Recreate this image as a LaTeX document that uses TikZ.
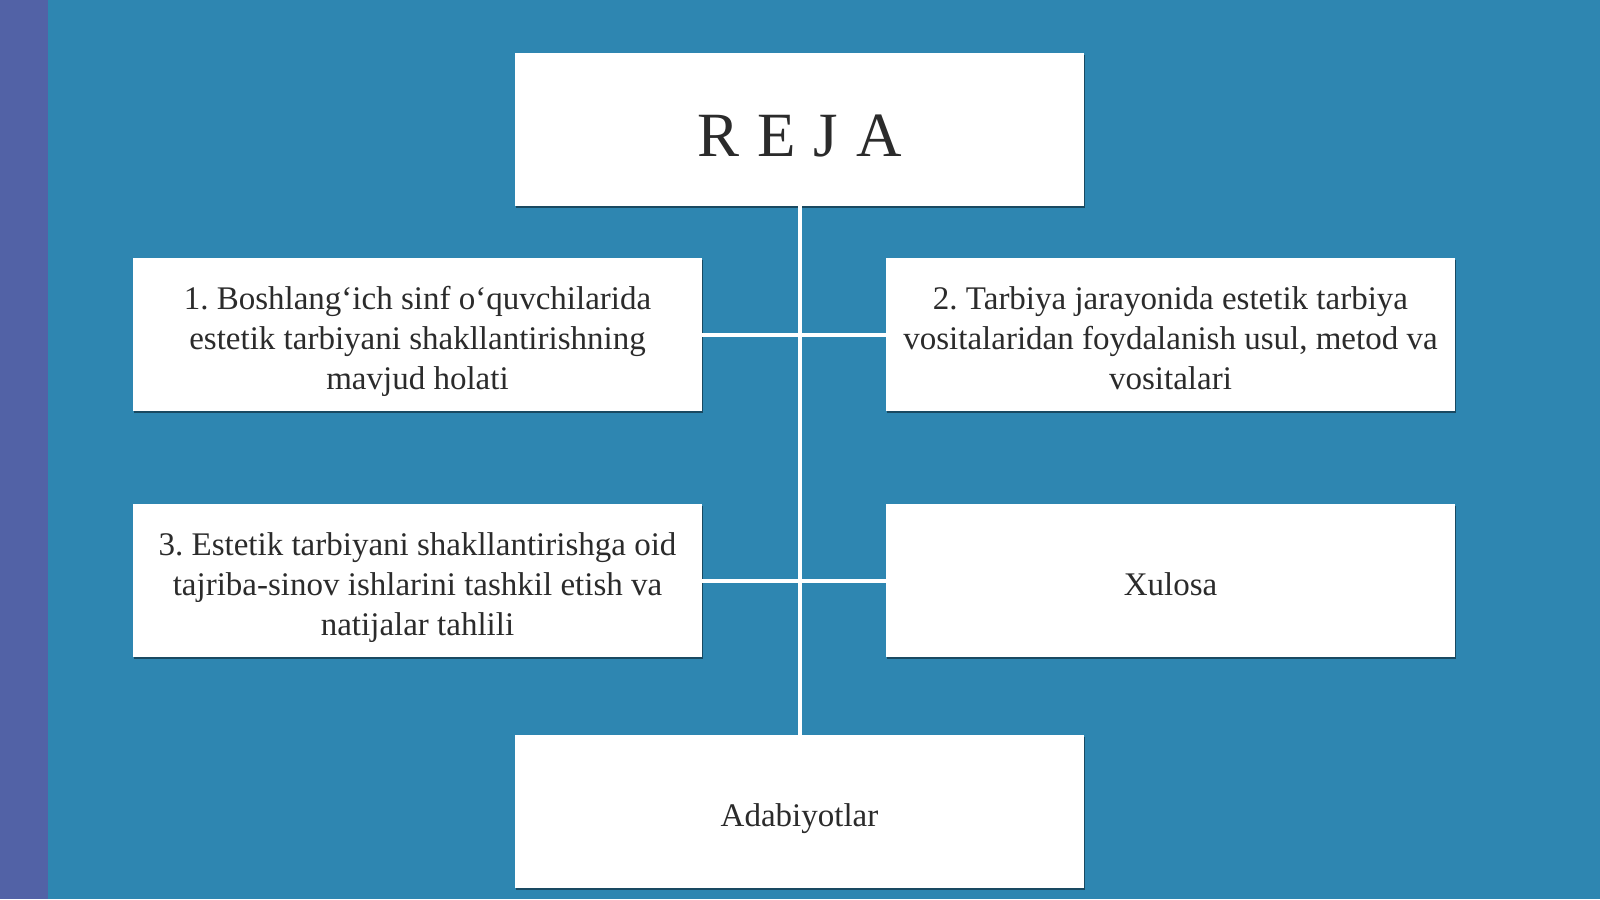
\documentclass[tikz,border=0pt]{standalone}
\usepackage{fontspec}
\setmainfont{Liberation Serif}
\usetikzlibrary{shadows}
\frenchspacing

\definecolor{bgblue}{HTML}{2E86B1}
\definecolor{stripe}{HTML}{5262A6}
\definecolor{ink}{HTML}{2B2B2B}

% struts that fix the first and last line of a card
\newcommand{\cardtop}{\rule{0pt}{40pt}}
\newcommand{\cardbot}{\rule[-10pt]{0pt}{10pt}}

\tikzset{
    card/.style={fill=white, minimum width=569pt, minimum height=153pt,
        inner sep=0pt, outer sep=0pt, align=center, text=ink,
        font=\fontsize{33}{40}\selectfont,
        drop shadow={shadow xshift=1pt, shadow yshift=-2pt, opacity=0.45, fill=black}},
    link/.style={draw=white, line width=4pt}
}

\begin{document}
\begin{tikzpicture}[x=1pt,y=-1pt]
    \fill[bgblue] (0,0) rectangle (1600,899);
    \fill[stripe] (0,0) rectangle (48,899);
    \useasboundingbox (0,0) rectangle (1600,899);
    \node[card, font=\fontsize{63}{70}\selectfont] (reja) at (799.5,129.5)
        {\rule{0pt}{55pt}R\hspace{18pt}E\hspace{18pt}J\hspace{18pt}A};
    \node[card] (plan1) at (417.5,334.5)
        {\cardtop 1. Boshlang‘ich sinf o‘quvchilarida\\estetik tarbiyani shakllantirishning\\mavjud holati\cardbot};
    \node[card] (plan2) at (1170.5,334.5)
        {\cardtop 2. Tarbiya jarayonida estetik tarbiya\\vositalaridan foydalanish usul, metod va\\vositalari\cardbot};
    \node[card] (plan3) at (417.5,580.5)
        {\cardtop 3. Estetik tarbiyani shakllantirishga oid\\tajriba-sinov ishlarini tashkil etish va\\natijalar tahlili\cardbot};
    \node[card] (xulosa) at (1170.5,580.5) {\cardtop Xulosa\cardbot};
    \node[card] (adab) at (799.5,811.5) {\cardtop Adabiyotlar\cardbot};
    \draw[link] (reja.south) -- (adab.north);
    \draw[link] (plan1.east) -- (plan2.west);
    \draw[link] (plan3.east) -- (xulosa.west);
\end{tikzpicture}
\end{document}
